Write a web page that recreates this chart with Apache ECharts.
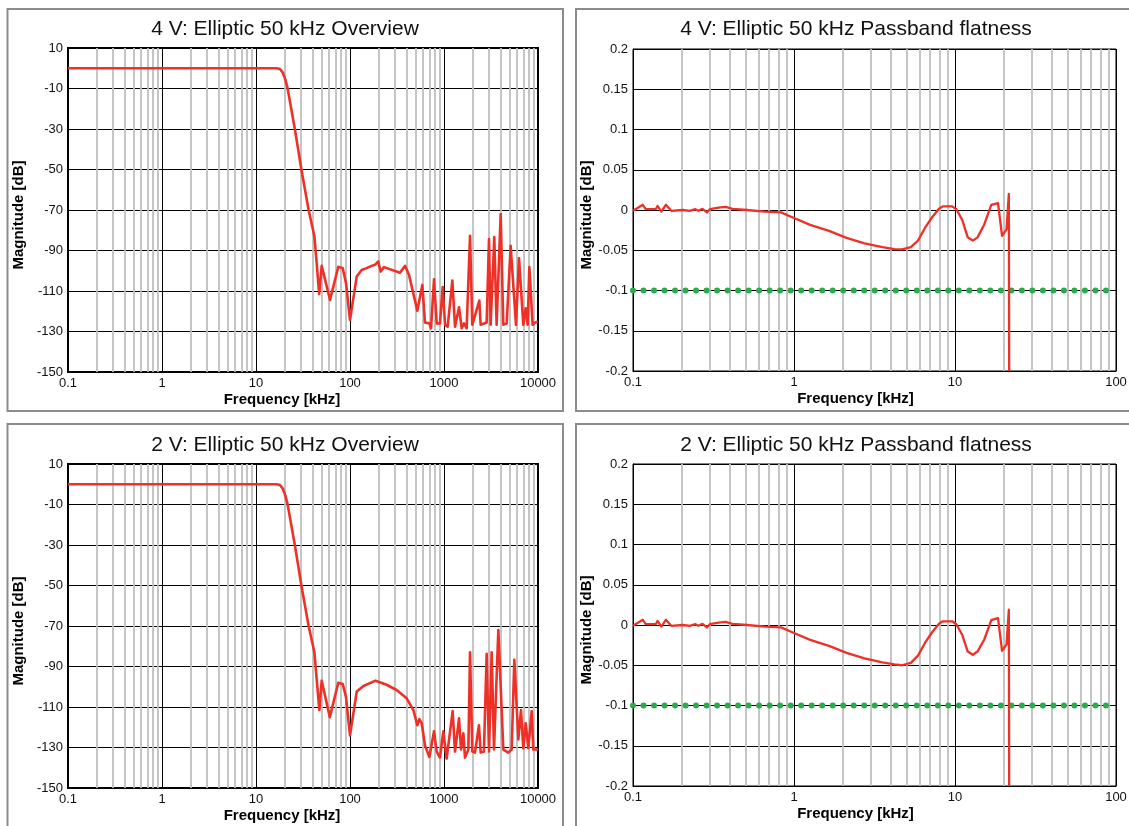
<!DOCTYPE html>
<html>
<head>
<meta charset="utf-8">
<title>Elliptic 50 kHz</title>
<script src="https://cdn.jsdelivr.net/npm/echarts@6/dist/echarts.min.js"></script>
<style>
  html, body { margin: 0; padding: 0; background: #fff; }
  #main { width: 1129px; height: 826px; }
</style>
</head>
<body>
<div id="main"></div>
<script>
// 4 V overview (kHz / dB)
var freq4vOverview = [0.1, 1, 10, 16.5, 18, 19.2, 20.5, 21.7, 25.9, 30.4, 36.3, 41.8, 44, 47, 50, 61.3, 75.1, 83.6, 90.6, 100,
  118, 133, 150, 170, 185, 200, 212, 230, 340, 385, 424, 520, 588, 628, 699, 728, 783, 836, 906, 969,
  1026, 1094, 1227, 1310, 1445, 1542, 1633, 1742, 1892, 2000, 2376, 2455, 2843, 3012, 3135, 3428, 3630, 4009, 4275, 4645,
  5117, 5834, 6280, 6980, 7400, 7770, 8090, 8770, 9290, 9680, 10000];
var mag4vOverview = [0, 0, 0, 0, -0.4, -2, -5.5, -10, -30, -50, -70, -83, -95, -111.5, -97.6, -114.4, -98, -98.7, -106, -124.3,
  -102.8, -99.6, -98.7, -97.6, -97, -95.4, -100.4, -98.2, -101, -97.6, -102, -119.7, -107, -125.6, -126, -128.4, -104.2, -126, -126, -108,
  -126.7, -127.6, -104.8, -127.6, -118, -128.4, -126, -128.4, -82.8, -126.7, -114.7, -126.7, -125.6, -84.4, -126.7, -83.4, -126.7, -72, -126.7, -126,
  -87.7, -126.7, -93.8, -126.7, -118.5, -126.7, -98.2, -126.7, -125.6, -125, -125];

// 2 V overview
var freq2vOverview = [0.1, 1, 10, 16.5, 18, 19.2, 20.5, 21.7, 25.9, 30.4, 36.3, 41.8, 44, 47.2, 50, 61, 75, 83.6, 90.6, 100,
  118, 139, 187, 245, 313, 401, 472, 520, 547, 579, 628, 699, 783, 836, 906, 984, 1067, 1236, 1310, 1445,
  1517, 1607, 1672, 1816, 1892, 2000, 2137, 2355, 2455, 2660, 2843, 3012, 3214, 3404, 3785, 4275, 4830, 5248, 5600, 6180,
  6590, 6980, 7400, 7890, 8570, 8910, 10000];
var mag2vOverview = [0, 0, 0, 0, -0.4, -2, -5.5, -10, -30, -50, -70, -83, -95, -111.5, -97, -115, -98, -98.6, -105, -124,
  -102.4, -99.6, -97, -99, -101.6, -105.7, -111.5, -119, -116, -118, -129, -134.7, -122, -132, -135, -122, -135.5, -112, -132, -115.6,
  -131, -123, -135, -131, -83, -132, -132.5, -119, -132.5, -132, -83.7, -132, -83, -131, -72, -131, -132.5, -131, -86.7, -126,
  -111.5, -130.4, -118, -130.4, -112, -131, -131];

// passband flatness (kHz / dB)
var freqFlat = [0.1, 0.108, 0.115, 0.12, 0.139, 0.142, 0.15, 0.16, 0.173, 0.204,
  0.225, 0.244, 0.255, 0.27, 0.288, 0.3, 0.34, 0.376, 0.415, 0.51,
  0.66, 0.83, 0.85, 1.0, 1.26, 1.65, 2.12, 2.74, 3.54, 4.2,
  4.68, 5.32, 5.89, 6.52, 7.21, 7.95, 8.4, 9.6, 10.2, 11.1,
  12, 12.9, 13.8, 15.2, 16.8, 18.5, 19.6, 20.9, 21.6, 21.7];
var mag4vFlat = [-0.001, 0.003, 0.0065, 0.001, 0.0015, 0.005, -0.002, 0.0065, -0.001, 0,
  -0.001, 0.001, -0.001, 0.0015, -0.003, 0.001, 0.003, 0.004, 0.0015, 0,
  -0.002, -0.003, -0.004, -0.01, -0.0185, -0.026, -0.0346, -0.0415, -0.046, -0.0485,
  -0.049, -0.046, -0.038, -0.022, -0.009, 0.0015, 0.0045, 0.0045, 0.001, -0.0125,
  -0.034, -0.038, -0.034, -0.018, 0.0065, 0.0085, -0.032, -0.024, 0.02, -0.2];
var mag2vFlat = [-0.001, 0.003, 0.0065, 0.001, 0.0015, 0.005, -0.002, 0.0065, -0.001, 0,
  -0.001, 0.001, -0.001, 0.0015, -0.003, 0.001, 0.003, 0.004, 0.0015, 0,
  -0.002, -0.003, -0.004, -0.01, -0.0185, -0.026, -0.0346, -0.0415, -0.0465, -0.049,
  -0.05, -0.047, -0.038, -0.022, -0.009, 0.0015, 0.0046, 0.0046, 0.001, -0.0125,
  -0.033, -0.037, -0.033, -0.018, 0.006, 0.0085, -0.032, -0.024, 0.019, -0.2];

var limitFreq = [0.1, 100];
var limitLevel = -0.1;

var titles = ['4 V: Elliptic 50 kHz Overview', '4 V: Elliptic 50 kHz Passband flatness',
              '2 V: Elliptic 50 kHz Overview', '2 V: Elliptic 50 kHz Passband flatness'];

var RED = '#ee3026';
var FONT = '"Liberation Sans", Arial, Helvetica, sans-serif';

function zip(f, m) {
  return f.map(function (x, i) { return [x, m[i]]; });
}

// gray lines at 2..9 of every decade
function minorTicks(lo, hi) {
  var out = [];
  for (var d = lo; d < hi * 0.999; d *= 10) {
    for (var k = 2; k <= 9; k++) out.push({ xAxis: +(k * d).toPrecision(4) });
  }
  return out;
}

var labelStyle = { color: '#111', fontSize: 13, fontFamily: FONT };
var nameStyle = { color: '#000', fontSize: 15, fontWeight: 'bold', fontFamily: FONT };

function xAxisLog(gi, max, shift) {
  return {
    type: 'log', logBase: 10, gridIndex: gi, min: 0.1, max: max,
    name: 'Frequency [kHz]', nameLocation: 'middle', nameGap: 20,
    nameTextStyle: Object.assign({ padding: [0, shift, 0, 0] }, nameStyle),
    axisLine: { onZero: false, lineStyle: { color: '#000', width: 1 } },
    axisTick: { show: false },
    axisLabel: Object.assign({
      margin: 5, showMinLabel: true, showMaxLabel: true,
      formatter: function (v) { return String(+(+v).toPrecision(6)); }
    }, labelStyle),
    splitLine: { show: true, lineStyle: { color: '#000', width: 1 } }
  };
}

function yName(gap) {
  return {
    name: 'Magnitude [dB]', nameLocation: 'middle', nameRotate: 90, nameGap: gap,
    nameTextStyle: Object.assign({ padding: [0, 10, 0, 0] }, nameStyle)
  };
}

// overview: shown axis counts steps of 20 dB from the top (10 dB)
function yOverviewShown(gi) {
  return Object.assign({
    type: 'value', gridIndex: gi, min: -8, max: 0, interval: 1,
    axisLine: { show: true, onZero: false, lineStyle: { color: '#000' } },
    axisTick: { show: false },
    axisLabel: Object.assign({ margin: 5, formatter: function (v) { return String(10 + 20 * v); } }, labelStyle),
    splitLine: { show: true, lineStyle: { color: '#000', width: 1 } }
  }, yName(42));
}
function yOverviewData(gi) {
  return { type: 'value', gridIndex: gi, min: -150, max: 10, show: false, position: 'right',
           splitLine: { show: false } };
}
function yFlat(gi) {
  return Object.assign({
    type: 'value', gridIndex: gi, min: -0.2, max: 0.2, interval: 0.05,
    axisLine: { show: true, onZero: false, lineStyle: { color: '#000' } },
    axisTick: { show: false },
    axisLabel: Object.assign({ margin: 5 }, labelStyle),
    splitLine: { show: true, lineStyle: { color: '#000', width: 1 } }
  }, yName(38));
}

function redSeries(xi, yi, data, width, minor) {
  return {
    type: 'line', xAxisIndex: xi, yAxisIndex: yi, data: data,
    symbol: 'none', z: 10, silent: true,
    lineStyle: { color: RED, width: width, join: 'round' },
    markLine: {
      silent: true, symbol: 'none', animation: false,
      label: { show: false },
      lineStyle: { color: '#bfbfbf', width: 1.8, type: 'solid' },
      emphasis: { disabled: true },
      data: minor
    }
  };
}

function limitSeries(xi, yi) {
  return {
    type: 'line', xAxisIndex: xi, yAxisIndex: yi, z: 8, silent: true,
    data: zip(limitFreq, [limitLevel, limitLevel]),
    symbol: 'none',
    lineStyle: { color: '#2bab4a', width: 6, type: [0.01, 10.5], cap: 'round' }
  };
}

function panelBox(x, y, w, h) {
  return { type: 'rect', shape: { x: x, y: y, width: w, height: h }, silent: true,
           style: { fill: 'none', stroke: '#8c8c8c', lineWidth: 2 } };
}
function panelTitle(x, y, text) {
  return { type: 'text', x: x, y: y, silent: true,
           style: { text: text, fill: '#111', font: '21px ' + FONT, align: 'center', verticalAlign: 'middle' } };
}

var myChart = echarts.init(document.getElementById('main'), null, { renderer: 'canvas' });

var option = {
  animation: false,
  backgroundColor: '#fff',
  textStyle: { fontFamily: FONT },
  graphic: [
    panelBox(7.5, 9, 555.5, 402), panelBox(576, 9, 560, 402),
    panelBox(7.5, 424, 555.5, 410), panelBox(576, 424, 560, 410),
    panelTitle(285, 29, titles[0]), panelTitle(856, 29, titles[1]),
    panelTitle(285, 445, titles[2]), panelTitle(856, 445, titles[3])
  ],
  grid: [
    { left: 68, top: 48, width: 470, height: 324, show: true, borderColor: '#000', borderWidth: 2, outerBoundsMode: 'none' },
    { left: 633, top: 49, width: 483, height: 322, show: true, borderColor: '#000', borderWidth: 1, outerBoundsMode: 'none' },
    { left: 68, top: 464, width: 470, height: 324, show: true, borderColor: '#000', borderWidth: 2, outerBoundsMode: 'none' },
    { left: 633, top: 464, width: 483, height: 322, show: true, borderColor: '#000', borderWidth: 1, outerBoundsMode: 'none' }
  ],
  xAxis: [
    xAxisLog(0, 10000, 42),
    xAxisLog(1, 100, 38),
    xAxisLog(2, 10000, 42),
    xAxisLog(3, 100, 38)
  ],
  yAxis: [
    yOverviewShown(0), yOverviewData(0),
    yFlat(1),
    yOverviewShown(2), yOverviewData(2),
    yFlat(3)
  ],
  series: [
    redSeries(0, 1, zip(freq4vOverview, mag4vOverview), 2.6, minorTicks(0.1, 10000)),
    limitSeries(1, 2),
    redSeries(1, 2, zip(freqFlat, mag4vFlat), 2.3, minorTicks(0.1, 100)),
    redSeries(2, 4, zip(freq2vOverview, mag2vOverview), 2.6, minorTicks(0.1, 10000)),
    limitSeries(3, 5),
    redSeries(3, 5, zip(freqFlat, mag2vFlat), 2.3, minorTicks(0.1, 100))
  ]
};

myChart.setOption(option);
</script>
</body>
</html>
